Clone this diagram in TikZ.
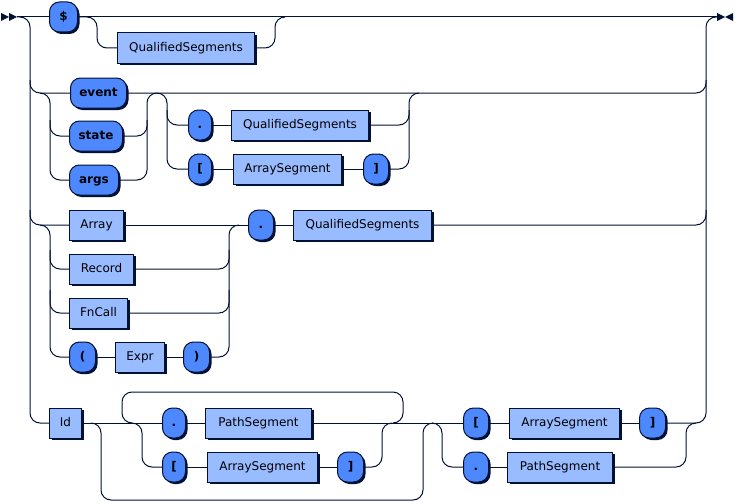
\documentclass[tikz,border=0pt]{standalone}
\usepackage{fontspec}
\setmainfont{DejaVu Sans}
\usetikzlibrary{shadows}
\definecolor{dark}{HTML}{001133}
\definecolor{tfill}{HTML}{4D88FF}
\definecolor{nfill}{HTML}{99BBFF}
\begin{document}
\begin{tikzpicture}[x=1pt,y=-1pt,
 rrbox/.style={draw=dark,line width=1pt,anchor=west,minimum height=30pt,inner sep=0pt,
   text height=9pt,text depth=2.5pt,text=black,
   drop shadow={shadow xshift=2pt,shadow yshift=-2pt,fill=dark,opacity=1}},
 term/.style={rrbox,fill=tfill,rounded corners=10pt,font=\fontsize{12}{14}\selectfont\bfseries},
 nont/.style={rrbox,fill=nfill,font=\fontsize{12}{14}\selectfont},
 conn/.style={draw=dark,line width=1pt,rounded corners=10pt},
 tipmark/.style={fill=dark}]
\useasboundingbox (0,0) rectangle (735,503);
\fill[white] (0,0) rectangle (735,503);
\coordinate (start) at (17,17);
\coordinate (end) at (717,17);
% nodes
\node[term,minimum width=28pt] (dollar) at (49,17) {\$};
\node[nont,minimum width=137pt] (qs1) at (117,48) {QualifiedSegments};
\node[term,minimum width=56pt] (event) at (70,93) {event};
\node[term,minimum width=53pt] (state) at (69,136) {state};
\node[term,minimum width=49pt] (args) at (69,180) {args};
\node[term,minimum width=23pt] (dot1) at (188,125) {.};
\node[nont,minimum width=137pt] (qs2) at (231,125) {QualifiedSegments};
\node[term,minimum width=23pt] (lbr1) at (188,169) {[};
\node[nont,minimum width=108pt] (as1) at (233,169) {ArraySegment};
\node[term,minimum width=25pt] (rbr1) at (363,169) {]};
\node[nont,minimum width=54pt] (array) at (69,225) {Array};
\node[nont,minimum width=64pt] (record) at (69,269) {Record};
\node[nont,minimum width=58pt] (fncall) at (69,313) {FnCall};
\node[term,minimum width=26pt] (lpar) at (69,357) {(};
\node[nont,minimum width=49pt] (expr) at (115,357) {Expr};
\node[term,minimum width=26pt] (rpar) at (183,357) {)};
\node[term,minimum width=25pt] (dot2) at (248,225) {.};
\node[nont,minimum width=138pt] (qs3) at (293,225) {QualifiedSegments};
\node[nont,minimum width=32pt] (id) at (49,423) {Id};
\node[term,minimum width=23pt] (dot3) at (162,423) {.};
\node[nont,minimum width=106pt] (ps1) at (205,423) {PathSegment};
\node[term,minimum width=23pt] (lbr2) at (162,467) {[};
\node[nont,minimum width=110pt] (as2) at (207,467) {ArraySegment};
\node[term,minimum width=26pt] (rbr2) at (337,467) {]};
\node[term,minimum width=25pt] (lbr3) at (463,423) {[};
\node[nont,minimum width=110pt] (as3) at (509,423) {ArraySegment};
\node[term,minimum width=26pt] (rbr3) at (639,423) {]};
\node[term,minimum width=25pt] (dot4) at (463,467) {.};
\node[nont,minimum width=105pt] (ps2) at (507,467) {PathSegment};
% start / end marks
\fill[tipmark] (1,13) -- (9,17) -- (1,21) -- cycle;
\fill[tipmark] (9,13) -- (17,17) -- (9,21) -- cycle;
\fill[tipmark] (717,13) -- (725,17) -- (717,21) -- cycle;
\fill[tipmark] (733,13) -- (725,17) -- (733,21) -- cycle;
% trunk
\draw[conn] (start) -- (dollar.west);
\draw[conn] (start) -| (30,423) -- (id.west);
\draw[conn] (30,80) |- (event.west);
\draw[conn] (30,210) |- (array.west);
% $ row
\draw[conn] (dollar.east) -- (end);
\draw[conn] (dollar.east) -| (97,48) -- (qs1.west);
\draw[conn] (qs1.east) -| (275,17) -- (285,17);
% event row
\draw[conn] (event.east) -| (706,80);
\draw[conn] (40,93) -| (50,180) -- (args.west);
\draw[conn] (50,120) |- (state.west);
\draw[conn] (args.east) -| (147,93) -- (157,93);
\draw[conn] (state.east) -| (147,120);
\draw[conn] (157,93) -| (167,169) -- (lbr1.west);
\draw[conn] (167,110) |- (dot1.west);
\draw[conn] (dot1.east) -- (qs2.west);
\draw[conn] (qs2.east) -| (409,93) -- (419,93);
\draw[conn] (lbr1.east) -- (as1.west);
\draw[conn] (as1.east) -- (rbr1.west);
\draw[conn] (rbr1.east) -| (409,110);
% Array row
\draw[conn] (array.east) -- (dot2.west);
\draw[conn] (40,225) -| (50,357) -- (lpar.west);
\draw[conn] (50,250) |- (record.west);
\draw[conn] (50,290) |- (fncall.west);
\draw[conn] (lpar.east) -- (expr.west);
\draw[conn] (expr.east) -- (rpar.west);
\draw[conn] (rpar.east) -| (229,225) -- (239,225);
\draw[conn] (record.east) -| (229,250);
\draw[conn] (fncall.east) -| (229,290);
\draw[conn] (dot2.east) -- (qs3.west);
\draw[conn] (qs3.east) -| (706,210);
% Id row
\draw[conn] (id.east) -- (dot3.west);
\draw[conn] (dot3.east) -- (ps1.west);
\draw[conn] (ps1.east) -- (lbr3.west);
\draw[conn] (91,423) -| (101,500) -| (423,423) -- (433,423);
\draw[conn] (393,423) -| (403,392) -| (122,423) -- (132,423);
\draw[conn] (132,423) -| (142,467) -- (lbr2.west);
\draw[conn] (lbr2.east) -- (as2.west);
\draw[conn] (as2.east) -- (rbr2.west);
\draw[conn] (rbr2.east) -| (382,423) -- (392,423);
\draw[conn] (432,423) -| (442,467) -- (dot4.west);
\draw[conn] (dot4.east) -- (ps2.west);
\draw[conn] (ps2.east) -| (686,423) -- (696,423);
\draw[conn] (lbr3.east) -- (as3.west);
\draw[conn] (as3.east) -- (rbr3.west);
\draw[conn] (rbr3.east) -| (706,17) -- (end);
\end{tikzpicture}
\end{document}
